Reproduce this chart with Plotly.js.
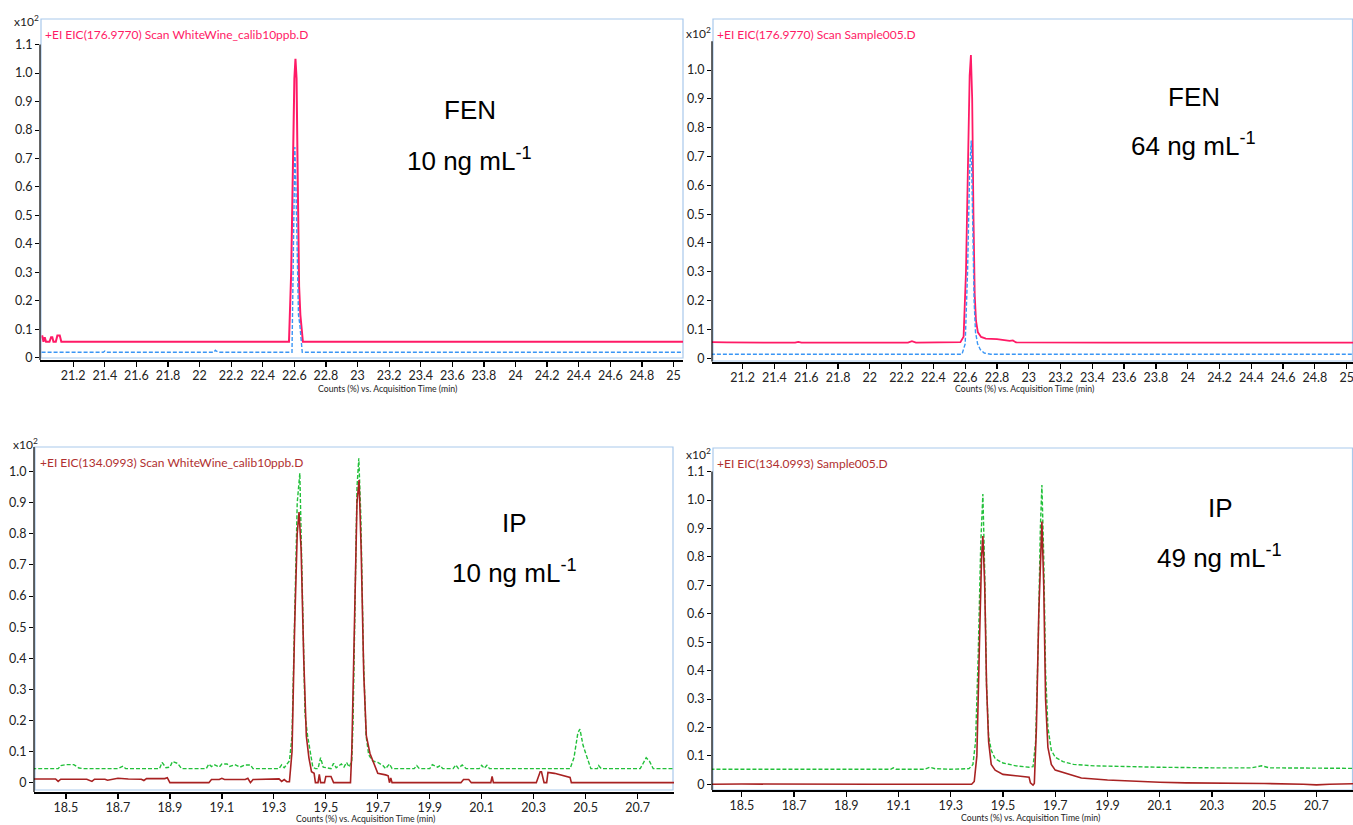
<!DOCTYPE html>
<html>
<head>
<meta charset="utf-8">
<script src="https://cdn.plot.ly/plotly-3.0.1.min.js"></script>
<style>html,body{margin:0;padding:0;background:#fff;}#chart{width:1353px;height:825px;}</style>
</head>
<body>
<div id="chart"></div>
<script>
// ---------- DATA ----------
// Top-left: FEN, WhiteWine_calib10ppb.D
const tlPinkT = [21.0, 21.005, 21.012, 21.02, 21.028, 21.036, 21.05, 21.06, 21.068, 21.075, 21.09, 21.1, 21.105, 21.115, 21.125, 21.135, 21.145, 21.6, 22.0, 22.4, 22.566, 22.58, 22.59, 22.6, 22.607, 22.614, 22.622, 22.63, 22.638, 22.648, 22.654, 23.0, 24.0, 25.06];
const tlPinkY = [0.075, 0.075, 0.056, 0.072, 0.056, 0.056, 0.056, 0.072, 0.072, 0.056, 0.056, 0.078, 0.078, 0.078, 0.056, 0.056, 0.056, 0.056, 0.056, 0.056, 0.056, 0.3, 0.65, 0.98, 1.05, 0.98, 0.6, 0.25, 0.15, 0.1, 0.056, 0.056, 0.056, 0.056];
const tlBlueT = [21.0, 21.39, 21.4, 21.41, 22.09, 22.1, 22.11, 22.12, 22.585, 22.595, 22.603, 22.61, 22.618, 22.626, 22.634, 22.642, 22.65, 23.5, 25.06];
const tlBlueY = [0.019, 0.019, 0.023, 0.019, 0.019, 0.026, 0.022, 0.019, 0.019, 0.35, 0.74, 0.6, 0.3, 0.15, 0.12, 0.06, 0.019, 0.019, 0.019];

// Top-right: FEN, Sample005.D
const trPinkT = [21.0, 21.1, 21.53, 21.55, 21.57, 22.24, 22.265, 22.29, 22.57, 22.59, 22.605, 22.618, 22.628, 22.636, 22.644, 22.652, 22.66, 22.668, 22.68, 22.7, 22.73, 22.8, 22.86, 22.88, 22.9, 22.92, 23.5, 24.5, 25.05];
const trPinkY = [0.056, 0.055, 0.054, 0.057, 0.054, 0.054, 0.059, 0.054, 0.056, 0.075, 0.3, 0.7, 0.98, 1.052, 0.9, 0.5, 0.22, 0.13, 0.09, 0.074, 0.068, 0.066, 0.063, 0.06, 0.062, 0.055, 0.054, 0.054, 0.054];
const trBlueT = [21.0, 22.58, 22.6, 22.615, 22.628, 22.638, 22.648, 22.656, 22.665, 22.678, 22.695, 22.72, 22.76, 25.05];
const trBlueY = [0.014, 0.014, 0.05, 0.3, 0.65, 0.755, 0.45, 0.2, 0.09, 0.05, 0.03, 0.018, 0.014, 0.014];

// Bottom-left: IP, WhiteWine_calib10ppb.D
const blGreenT = [18.37, 18.47, 18.48, 18.5, 18.53, 18.55, 18.57, 18.7, 18.72, 18.73, 18.86, 18.87, 18.885, 18.9, 18.91, 18.93, 18.945, 19.04, 19.05, 19.06, 19.07, 19.09, 19.1, 19.12, 19.13, 19.15, 19.17, 19.19, 19.21, 19.22, 19.32, 19.33, 19.34, 19.35, 19.36, 19.37, 19.38, 19.39, 19.4, 19.41, 19.42, 19.43, 19.44, 19.45, 19.46, 19.47, 19.48, 19.49, 19.52, 19.53, 19.54, 19.56, 19.57, 19.58, 19.59, 19.6, 19.605, 19.61, 19.62, 19.627, 19.635, 19.645, 19.655, 19.665, 19.68, 19.7, 19.72, 19.73, 19.745, 19.755, 19.84, 19.85, 19.86, 19.9, 19.91, 19.93, 19.94, 19.95, 19.99, 20.0, 20.01, 20.025, 20.04, 20.09, 20.1, 20.11, 20.12, 20.13, 20.44, 20.455, 20.47, 20.478, 20.49, 20.51, 20.52, 20.545, 20.55, 20.56, 20.71, 20.72, 20.733, 20.745, 20.76, 20.85];
const blGreenY = [0.045, 0.045, 0.055, 0.058, 0.058, 0.047, 0.045, 0.045, 0.053, 0.045, 0.045, 0.065, 0.048, 0.05, 0.068, 0.062, 0.045, 0.045, 0.06, 0.052, 0.058, 0.05, 0.06, 0.06, 0.052, 0.058, 0.05, 0.057, 0.057, 0.045, 0.045, 0.057, 0.048, 0.058, 0.07, 0.15, 0.5, 0.9, 0.995, 0.6, 0.22, 0.15, 0.1, 0.05, 0.045, 0.045, 0.08, 0.05, 0.045, 0.062, 0.048, 0.06, 0.05, 0.065, 0.05, 0.07, 0.2, 0.5, 0.95, 1.043, 0.85, 0.4, 0.15, 0.09, 0.07, 0.065, 0.055, 0.045, 0.06, 0.045, 0.045, 0.055, 0.045, 0.045, 0.058, 0.05, 0.055, 0.045, 0.045, 0.057, 0.046, 0.057, 0.045, 0.045, 0.056, 0.046, 0.056, 0.045, 0.045, 0.08, 0.16, 0.172, 0.12, 0.07, 0.045, 0.045, 0.055, 0.045, 0.045, 0.06, 0.08, 0.07, 0.045, 0.045];
const blRedT = [18.37, 18.46, 18.47, 18.48, 18.58, 18.6, 18.61, 18.65, 18.66, 18.7, 18.74, 18.79, 18.8, 18.81, 18.88, 18.89, 18.9, 19.05, 19.06, 19.09, 19.1, 19.11, 19.19, 19.2, 19.21, 19.22, 19.32, 19.33, 19.34, 19.35, 19.36, 19.37, 19.38, 19.39, 19.397, 19.405, 19.415, 19.425, 19.435, 19.445, 19.455, 19.46, 19.47, 19.475, 19.48, 19.495, 19.5, 19.52, 19.53, 19.595, 19.6, 19.61, 19.62, 19.628, 19.636, 19.646, 19.656, 19.67, 19.69, 19.7, 19.73, 19.74, 19.745, 19.75, 19.755, 20.02, 20.03, 20.05, 20.06, 20.135, 20.14, 20.145, 20.31, 20.325, 20.33, 20.34, 20.35, 20.355, 20.38, 20.4, 20.43, 20.44, 20.445, 20.85];
const blRedY = [0.012, 0.012, 0.004, 0.011, 0.011, 0.004, 0.011, 0.011, 0.008, 0.014, 0.012, 0.011, 0.007, 0.013, 0.013, 0.016, 0.0, 0.0, 0.01, 0.01, 0.014, 0.01, 0.01, 0.014, 0.0, 0.01, 0.012, 0.004, 0.01, 0.003, 0.003, 0.1, 0.5, 0.8, 0.87, 0.75, 0.4, 0.15, 0.08, 0.035, 0.03, 0.0, 0.0, 0.027, 0.0, 0.0, 0.02, 0.02, 0.0, 0.0, 0.1, 0.5, 0.9, 0.973, 0.75, 0.35, 0.15, 0.094, 0.05, 0.03, 0.025, 0.022, 0.0, 0.015, 0.0, 0.0, 0.01, 0.01, 0.0, 0.0, 0.02, 0.0, 0.0, 0.035, 0.035, 0.0, 0.0, 0.033, 0.03, 0.025, 0.02, 0.017, 0.0, 0.0];

// Bottom-right: IP, Sample005.D
const brGreenT = [18.38, 18.9, 18.93, 18.95, 19.07, 19.08, 19.09, 19.2, 19.22, 19.24, 19.3, 19.37, 19.385, 19.395, 19.405, 19.415, 19.423, 19.43, 19.437, 19.445, 19.455, 19.47, 19.5, 19.55, 19.6, 19.615, 19.625, 19.635, 19.643, 19.649, 19.656, 19.663, 19.672, 19.685, 19.7, 19.73, 19.77, 19.85, 19.95, 20.1, 20.3, 20.45, 20.49, 20.52, 20.85];
const brGreenY = [0.053, 0.053, 0.055, 0.053, 0.053, 0.058, 0.053, 0.053, 0.06, 0.055, 0.053, 0.055, 0.07, 0.15, 0.45, 0.85, 1.021, 0.75, 0.35, 0.17, 0.12, 0.09, 0.075, 0.065, 0.06, 0.062, 0.15, 0.5, 0.9, 1.053, 0.8, 0.4, 0.2, 0.12, 0.095, 0.08, 0.07, 0.065, 0.062, 0.06, 0.058, 0.058, 0.065, 0.058, 0.056];
const brRedT = [18.38, 18.5, 19.0, 19.38, 19.39, 19.4, 19.41, 19.418, 19.423, 19.43, 19.437, 19.445, 19.455, 19.47, 19.5, 19.55, 19.6, 19.605, 19.615, 19.62, 19.628, 19.637, 19.645, 19.649, 19.656, 19.663, 19.672, 19.685, 19.7, 19.75, 19.8, 19.9, 20.0, 20.1, 20.2, 20.4, 20.5, 20.65, 20.7, 20.75, 20.85];
const brRedY = [0.0, 0.001, 0.0, 0.0, 0.01, 0.1, 0.5, 0.8, 0.873, 0.7, 0.35, 0.15, 0.07, 0.05, 0.035, 0.03, 0.025, 0.005, -0.003, 0.003, 0.2, 0.6, 0.88, 0.924, 0.7, 0.3, 0.13, 0.07, 0.05, 0.035, 0.022, 0.015, 0.01, 0.007, 0.005, 0.005, 0.003, 0.0, -0.002, 0.0, 0.002];

// Tick labels
const fenTickVals = [21.2, 21.4, 21.6, 21.8, 22, 22.2, 22.4, 22.6, 22.8, 23, 23.2, 23.4, 23.6, 23.8, 24, 24.2, 24.4, 24.6, 24.8, 25];
const fenTickText = ['21.2', '21.4', '21.6', '21.8', '22', '22.2', '22.4', '22.6', '22.8', '23', '23.2', '23.4', '23.6', '23.8', '24', '24.2', '24.4', '24.6', '24.8', '25'];
const ipTickVals = [18.5, 18.7, 18.9, 19.1, 19.3, 19.5, 19.7, 19.9, 20.1, 20.3, 20.5, 20.7];
const ipTickText = ['18.5', '18.7', '18.9', '19.1', '19.3', '19.5', '19.7', '19.9', '20.1', '20.3', '20.5', '20.7'];
const yTickVals11 = [0, 0.1, 0.2, 0.3, 0.4, 0.5, 0.6, 0.7, 0.8, 0.9, 1.0, 1.1];
const yTickText11 = ['0', '0.1', '0.2', '0.3', '0.4', '0.5', '0.6', '0.7', '0.8', '0.9', '1.0', '1.1'];
const yTickVals10 = [0, 0.1, 0.2, 0.3, 0.4, 0.5, 0.6, 0.7, 0.8, 0.9, 1.0];
const yTickText10 = ['0', '0.1', '0.2', '0.3', '0.4', '0.5', '0.6', '0.7', '0.8', '0.9', '1.0'];

const subtitles = ['+EI EIC(176.9770) Scan WhiteWine_calib10ppb.D', '+EI EIC(176.9770) Scan Sample005.D', '+EI EIC(134.0993) Scan WhiteWine_calib10ppb.D', '+EI EIC(134.0993) Sample005.D'];
const compounds = ['FEN', 'FEN', 'IP', 'IP'];
const concs = ['10', '64', '10', '49'];
const xTitle = 'Counts (%) vs. Acquisition Time (min)';

// ---------- LAYOUT HELPERS ----------
const W = 1353, H = 825;
const px = v => v / W;
const py = v => 1 - v / H;

const PINK = '#ff1a66', BLUE = '#3a96f5', GREEN = '#22c03a', RED = '#a82222';
const FONT = 'Lato, "Open Sans", sans-serif';
const BIG = '"Liberation Sans", Arial, sans-serif';
const DASH = '4px,2px';

function line(x, y, color, dash, width, xa, ya) {
  return {x: x, y: y, type: 'scatter', mode: 'lines', xaxis: xa, yaxis: ya,
    line: {color: color, width: width, dash: dash, shape: 'linear'}, hoverinfo: 'skip'};
}

const data = [
  line(tlPinkT, tlPinkY, PINK, 'solid', 2, 'x', 'y'),
  line(tlBlueT, tlBlueY, BLUE, DASH, 1.4, 'x', 'y'),
  line(trPinkT, trPinkY, PINK, 'solid', 1.8, 'x2', 'y2'),
  line(trBlueT, trBlueY, BLUE, DASH, 1.4, 'x2', 'y2'),
  line(blGreenT, blGreenY, GREEN, DASH, 1.4, 'x3', 'y3'),
  line(blRedT, blRedY, RED, 'solid', 1.6, 'x3', 'y3'),
  line(brGreenT, brGreenY, GREEN, DASH, 1.4, 'x4', 'y4'),
  line(brRedT, brRedY, RED, 'solid', 1.6, 'x4', 'y4')
];

// panel geometry in pixels: [left, right, top, bottom], axis ranges
const panels = [
  {l: 40, r: 683, t: 19, b: 360, xr: [20.99, 25.06], yr: [-0.008, 1.19], tv: fenTickVals, tt: fenTickText, yv: yTickVals11, yt: yTickText11, ytop: 1.1},
  {l: 712, r: 1353, t: 19, b: 361.7, xr: [21.007, 25.04], yr: [-0.012, 1.177], tv: fenTickVals, tt: fenTickText, yv: yTickVals10, yt: yTickText10, ytop: 1.1},
  {l: 34, r: 674, t: 446.7, b: 792, xr: [18.377, 20.84], yr: [-0.03, 1.08], tv: ipTickVals, tt: ipTickText, yv: yTickVals10, yt: yTickText10, ytop: 1.08},
  {l: 712, r: 1353, t: 448, b: 790, xr: [18.386, 20.84], yr: [-0.02, 1.183], tv: ipTickVals, tt: ipTickText, yv: yTickVals11, yt: yTickText11, ytop: 1.1}
];

const layout = {
  width: W, height: H,
  margin: {l: 0, r: 0, t: 0, b: 0},
  paper_bgcolor: '#ffffff', plot_bgcolor: 'rgba(0,0,0,0)',
  showlegend: false,
  font: {family: FONT, color: '#222'},
  shapes: [], annotations: []
};

// frames (light blue boxes)
const frames = [
  [41, 683, 19, 358],
  [713, 1352.5, 19, 361],
  [35, 673, 447, 790],
  [713, 1352.5, 448, 790]
];

panels.forEach((p, i) => {
  const n = i === 0 ? '' : String(i + 1);
  layout['xaxis' + n] = {
    domain: [px(p.l), px(p.r)], range: p.xr, anchor: 'y' + n,
    showgrid: false, zeroline: false, showline: true, linecolor: '#000', linewidth: 2,
    ticks: 'outside', ticklen: 5, tickwidth: 1.3, tickcolor: '#000',
    tickvals: p.tv, ticktext: p.tt, tickfont: {family: FONT, size: 12.5, color: '#222'},
    ticklabeloverflow: 'allow', ticklabelstandoff: -2,
    fixedrange: true
  };
  layout['yaxis' + n] = {
    domain: [py(p.b), py(p.t)], range: p.yr, anchor: 'x' + n,
    showgrid: false, zeroline: false, showline: false,
    ticks: 'outside', ticklen: 4, tickwidth: 1, tickcolor: '#000',
    tickvals: p.yv, ticktext: p.yt, tickfont: {family: FONT, size: 12.5, color: '#222'},
    ticklabeloverflow: 'allow',
    fixedrange: true
  };
  const fr = frames[i];
  layout.shapes.push({type: 'rect', xref: 'paper', yref: 'paper', x0: px(fr[0]), x1: px(fr[1]), y0: py(fr[3]), y1: py(fr[2]),
    line: {color: '#a9c9ec', width: 1.2}, fillcolor: 'rgba(0,0,0,0)', layer: 'below'});
  // y axis line
  layout.shapes.push({type: 'line', xref: 'x' + n + ' domain', yref: 'y' + n, x0: 0, x1: 0, y0: p.yr[0], y1: p.ytop,
    line: {color: '#000', width: 1.2}});
});

// texts
const subPos = [[43, 34], [715, 34], [38, 462], [715, 464]];
const subCol = [PINK, PINK, '#b03030', '#b03030'];
const expPos = [[12, 21], [684, 33], [11, 444], [684, 454]];
const cmpPos = [[470, 110], [1194, 97], [514, 523], [1220, 508]];
const concPos = [[470, 159], [1193, 144], [514, 571], [1219, 556]];
const titlePos = [[387, 389], [1024, 389], [365, 818], [1030, 817]];

for (let i = 0; i < 4; i++) {
  layout.annotations.push({text: subtitles[i], xref: 'paper', yref: 'paper', x: px(subPos[i][0]), y: py(subPos[i][1]),
    xanchor: 'left', yanchor: 'middle', showarrow: false, font: {family: FONT, size: 12, color: subCol[i]}});
  layout.annotations.push({text: 'x10<sup>2</sup>', xref: 'paper', yref: 'paper', x: px(expPos[i][0]), y: py(expPos[i][1]),
    xanchor: 'left', yanchor: 'middle', showarrow: false, font: {family: FONT, size: 12, color: '#222'}});
  layout.annotations.push({text: compounds[i], xref: 'paper', yref: 'paper', x: px(cmpPos[i][0]), y: py(cmpPos[i][1]),
    xanchor: 'center', yanchor: 'middle', showarrow: false, font: {family: BIG, size: 26, color: '#000'}});
  layout.annotations.push({text: concs[i] + ' ng mL<sup>-1</sup>', xref: 'paper', yref: 'paper', x: px(concPos[i][0]), y: py(concPos[i][1]),
    xanchor: 'center', yanchor: 'middle', showarrow: false, font: {family: BIG, size: 26, color: '#000'}});
  layout.annotations.push({text: xTitle, xref: 'paper', yref: 'paper', x: px(titlePos[i][0]), y: py(titlePos[i][1]),
    xanchor: 'center', yanchor: 'middle', showarrow: false, font: {family: FONT, size: 8.7, color: '#222'}});
}

Plotly.newPlot('chart', data, layout, {staticPlot: true, displayModeBar: false});
</script>
</body>
</html>
